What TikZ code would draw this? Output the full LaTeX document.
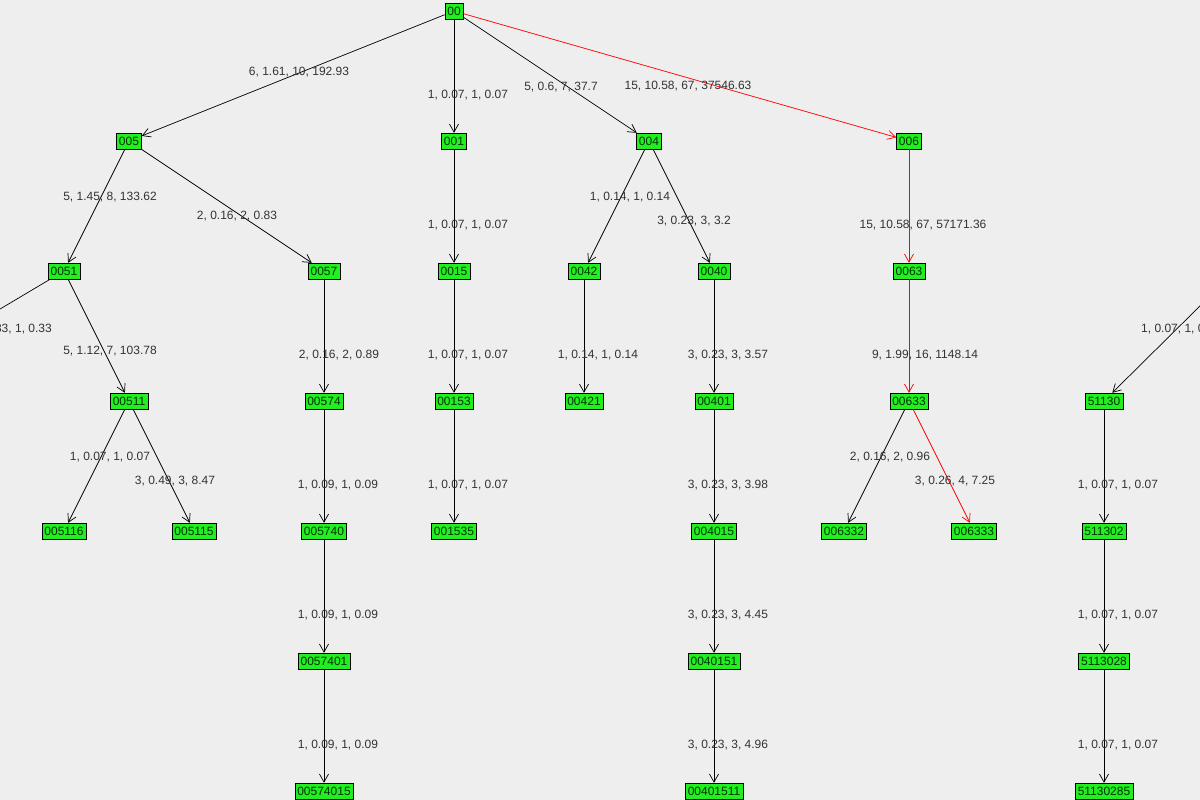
\documentclass[tikz,border=0pt]{standalone}
\usepackage{fontspec}
\setmainfont{Liberation Sans}
\usetikzlibrary{arrows.meta}
\definecolor{bg}{HTML}{EEEEEE}
\definecolor{ngreen}{HTML}{22EE22}
\definecolor{txt}{HTML}{333333}
\begin{document}
\begin{tikzpicture}[x=1pt,y=-1pt,
  vx/.style={draw=black,fill=ngreen,inner xsep=2.5pt,inner ysep=1pt,minimum height=16pt,font=\fontsize{12}{13}\selectfont,text=black!80!green},
  lbl/.style={font=\fontsize{12}{13}\selectfont,text=txt,inner sep=0pt},
  ed/.style={draw=black,line width=0.7pt,-{Straight Barb[length=8pt,width=9pt,line width=0.7pt]}},
  red/.style={ed,draw=red}]
\useasboundingbox (0,0) rectangle (1200,800);
\fill[bg] (0,0) rectangle (1200,800);
\clip (0,0) rectangle (1200,800);
\begin{scope}[yshift=-1pt]
\foreach \n/\x/\y in {00/454/10, 005/129/140, 001/454/140, 004/649/140, 006/909/140,
 0051/64/270, 0057/324/270, 0015/454/270, 0042/584/270, 0040/714/270, 0063/909/270,
 00511/129/400, 00574/324/400, 00153/454/400, 00421/584/400, 00401/714/400, 00633/909/400, 51130/1104/400,
 005116/64/530, 005115/194/530, 005740/324/530, 001535/454/530, 004015/714/530, 006332/844/530, 006333/974/530, 511302/1104/530,
 0057401/324/660, 0040151/714/660, 5113028/1104/660,
 00574015/324/790, 00401511/714/790, 51130285/1104/790}
 {\node[vx] (n\n) at (\x,\y) {\n};}
\coordinate (offL) at (-10,314);
\coordinate (offR) at (1210,295);
\foreach \a/\b in {00/005,00/001,00/004,005/0051,005/0057,001/0015,004/0042,004/0040,
 0051/00511,0057/00574,0015/00153,0042/00421,0040/00401,
 00511/005116,00511/005115,00574/005740,00153/001535,00401/004015,00633/006332,51130/511302,
 005740/0057401,004015/0040151,511302/5113028,0057401/00574015,0040151/00401511,5113028/51130285}
 {\draw[ed] (n\a) -- (n\b);}
\draw[red] (n00) -- (n006);
\draw[red] (n006) -- (n0063);
\draw[red] (n0063) -- (n00633);
\draw[red] (n00633) -- (n006333);
\draw[line width=0.7pt] (n0051) -- (offL);
\draw[ed] (offR) -- (n51130);
\foreach \t/\x/\y in {{6, 1.61, 10, 192.93}/299/71, {1, 0.07, 1, 0.07}/468/94, {5, 0.6, 7, 37.7}/561/86,
 {15, 10.58, 67, 37546.63}/688/85, {5, 1.45, 8, 133.62}/110/196, {2, 0.16, 2, 0.83}/237/215,
 {1, 0.07, 1, 0.07}/468/224, {1, 0.14, 1, 0.14}/630/196, {3, 0.23, 3, 3.2}/694/220,
 {15, 10.58, 67, 57171.36}/923/224, {5, 1.12, 7, 103.78}/110/350, {2, 0.16, 2, 0.89}/339/354,
 {1, 0.07, 1, 0.07}/468/354, {1, 0.14, 1, 0.14}/598/354, {3, 0.23, 3, 3.57}/728/354,
 {9, 1.99, 16, 1148.14}/925/354, {1, 0.07, 1, 0.07}/110/456, {3, 0.49, 3, 8.47}/175/480,
 {1, 0.09, 1, 0.09}/338/484, {1, 0.07, 1, 0.07}/468/484, {3, 0.23, 3, 3.98}/728/484,
 {2, 0.16, 2, 0.96}/890/456, {3, 0.26, 4, 7.25}/955/480, {1, 0.07, 1, 0.07}/1118/484,
 {1, 0.09, 1, 0.09}/338/614, {3, 0.23, 3, 4.45}/728/614, {1, 0.07, 1, 0.07}/1118/614,
 {1, 0.09, 1, 0.09}/338/744, {3, 0.23, 3, 4.96}/728/744, {1, 0.07, 1, 0.07}/1118/744}
 {\node[lbl] at (\x,\y) {\t};}
\node[lbl,anchor=east] (lblL) at (52,328) {1, 0.33, 1, 0.33};
\node[lbl,anchor=west] (lblR) at (1141,328) {1, 0.07, 1, 0.07};
\end{scope}
\end{tikzpicture}
\end{document}
